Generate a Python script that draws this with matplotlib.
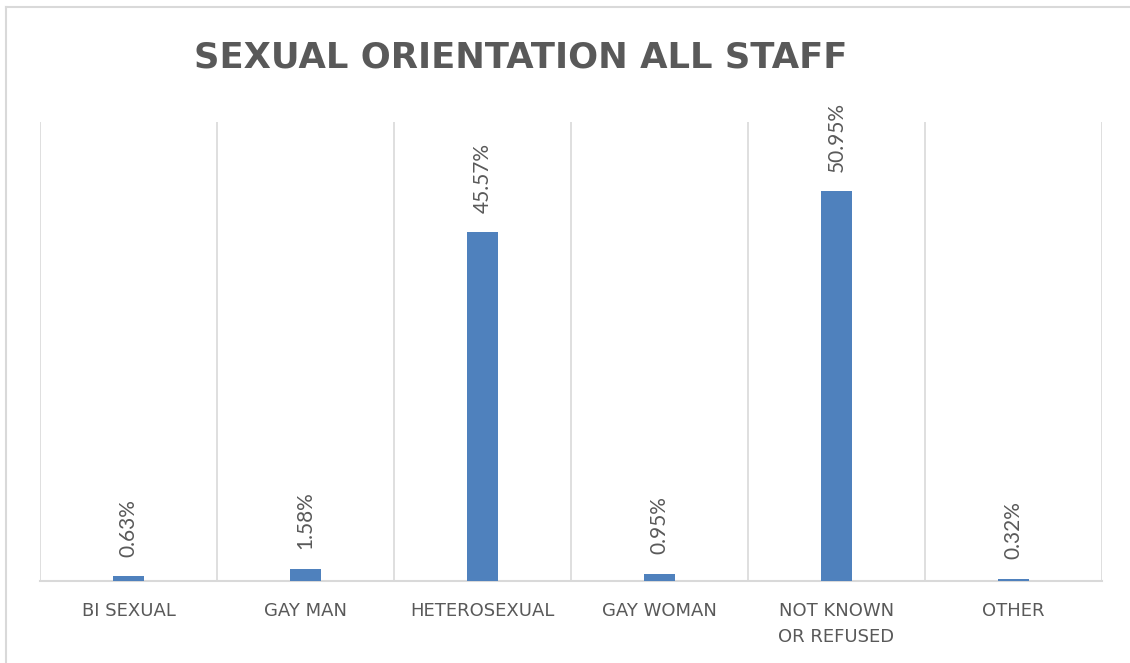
import matplotlib
matplotlib.use("Agg")
import matplotlib.pyplot as plt
from matplotlib.lines import Line2D

categories = ["BI SEXUAL", "GAY MAN", "HETEROSEXUAL", "GAY WOMAN", "NOT KNOWN\nOR REFUSED", "OTHER"]
values = [0.63, 1.58, 45.57, 0.95, 50.95, 0.32]
value_labels = ["0.63%", "1.58%", "45.57%", "0.95%", "50.95%", "0.32%"]
title = "SEXUAL ORIENTATION ALL STAFF"

W, H = 1130, 663
fig = plt.figure(figsize=(W / 100, H / 100), dpi=100)
fig.patch.set_facecolor("white")

# outer chart border: only top and left edges are visible in the image
fig.add_artist(Line2D([6 / W, 6 / W], [-0.1, 1 - 7 / H],
                      transform=fig.transFigure, color="#D9D9D9", linewidth=1.5, zorder=0))
fig.add_artist(Line2D([6 / W, 1.1], [1 - 7 / H, 1 - 7 / H],
                      transform=fig.transFigure, color="#D9D9D9", linewidth=1.5, zorder=0))

ax = fig.add_axes([40 / W, 1 - 581 / H, (1102 - 40) / W, (581 - 122) / H])
x = list(range(len(categories)))
ax.bar(x, values, width=0.18, color="#4F81BD", zorder=3)
ax.set_xlim(-0.5, len(categories) - 0.5)
ax.set_ylim(0, 60)

# category separators
for b in [i - 0.5 for i in range(len(categories) + 1)]:
    ax.axvline(b, color="#D9D9D9", linewidth=1.2, zorder=1)

for s in ["top", "left", "right"]:
    ax.spines[s].set_visible(False)
ax.spines["bottom"].set_color("#D9D9D9")
ax.spines["bottom"].set_linewidth(1.5)
ax.set_yticks([])
ax.set_xticks(x)
ax.set_xticklabels(categories, fontsize=13, color="#595959", family=["DejaVu Sans"],
                   linespacing=1.55)
ax.tick_params(axis="x", length=0, pad=15)

for xi, v, lab in zip(x, values, value_labels):
    ax.annotate(lab, (xi, v), xytext=(0, 14), textcoords="offset points",
                rotation=90, ha="center", va="bottom", fontsize=15,
                color="#595959", family=["Lato", "DejaVu Sans"])

fig.text(521 / W, 1 - 57 / H, title, ha="center", va="center", fontsize=25.5,
         fontweight="bold", color="#595959", family=["DejaVu Sans"])

fig.savefig("out.png", dpi=100, facecolor="white")
